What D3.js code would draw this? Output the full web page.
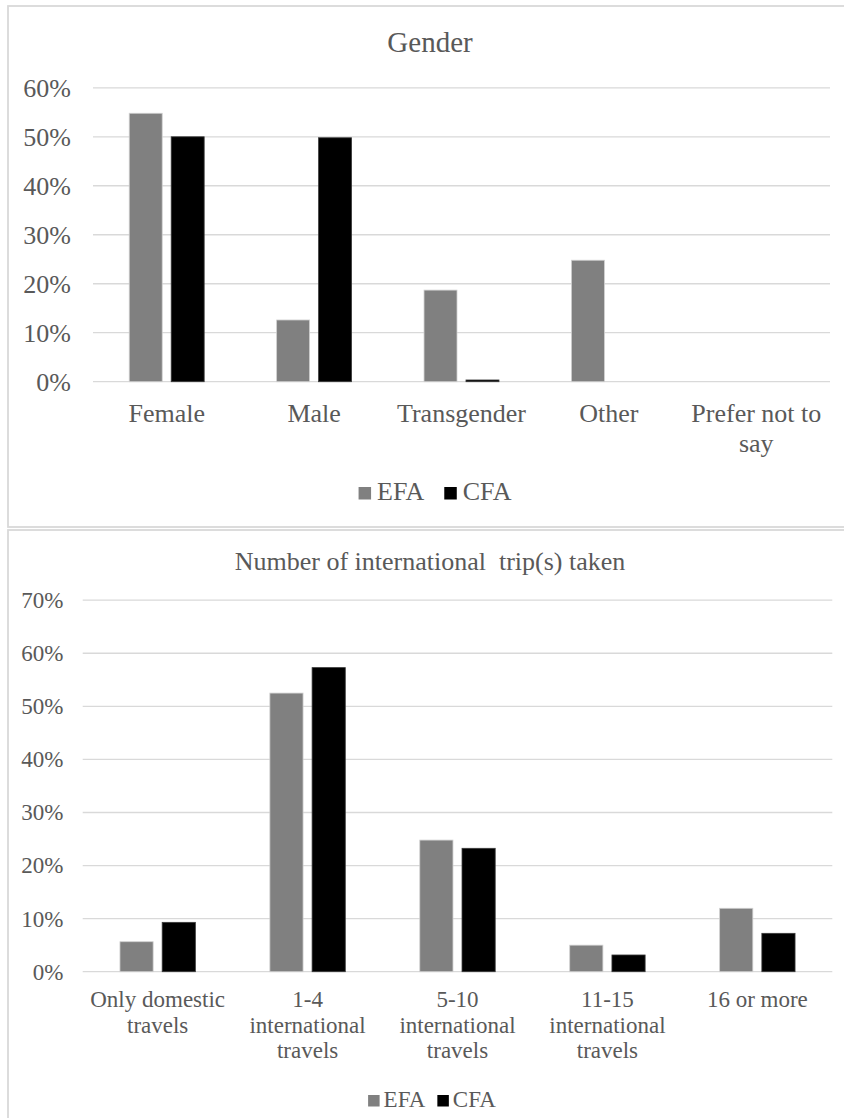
<!DOCTYPE html>
<html>
<head>
<meta charset="utf-8">
<script src="https://cdn.jsdelivr.net/npm/d3@7"></script>
<style>
  html, body { margin: 0; padding: 0; background: #ffffff; }
  svg { display: block; }
  text { font-family: "Liberation Serif", "Times New Roman", serif; fill: #595959; }
</style>
</head>
<body>
<svg id="chart" width="844" height="1118"></svg>
<script>
// ---------- data ----------
const seriesNames = ["EFA", "CFA"];

const genderTitle = "Gender";
const genderCategories = ["Female", "Male", "Transgender", "Other", "Prefer not to say"];
const genderEFA = [0.548, 0.126, 0.187, 0.248, 0];
const genderCFA = [0.500, 0.498, 0.0035, 0, 0];
const genderTicks = [0, 0.1, 0.2, 0.3, 0.4, 0.5, 0.6];

const tripTitle = "Number of international  trip(s) taken";
const tripCategories = ["Only domestic travels", "1-4 international travels", "5-10 international travels", "11-15 international travels", "16 or more"];
const tripEFA = [0.0565, 0.525, 0.248, 0.050, 0.1195];
const tripCFA = [0.093, 0.573, 0.2325, 0.0315, 0.0723];
const tripTicks = [0, 0.1, 0.2, 0.3, 0.4, 0.5, 0.6, 0.7];

// ---------- styles ----------
const seriesColors = { EFA: "#808080", CFA: "#000000" };
const gridColor = "#d9d9d9";
const borderColor = "#d9d9d9";

const svg = d3.select("#chart");

function drawChart(cfg) {
  const g = svg.append("g");

  // panel border
  g.append("rect")
    .attr("x", cfg.panel[0]).attr("y", cfg.panel[1])
    .attr("width", cfg.panel[2] - cfg.panel[0]).attr("height", cfg.panel[3] - cfg.panel[1])
    .attr("fill", "none").attr("stroke", borderColor).attr("stroke-width", 1.8);

  const y = d3.scaleLinear().domain([0, d3.max(cfg.ticks)]).range([cfg.yBottom, cfg.yTop]);
  const x0 = d3.scaleBand().domain(cfg.categories).range([cfg.xLeft, cfg.xRight])
    .paddingInner(cfg.groupPad).paddingOuter(cfg.groupPad / 2);
  const x1 = d3.scaleBand().domain(seriesNames).range([0, x0.bandwidth()]).paddingInner(cfg.barPad);

  // gridlines
  g.append("g").selectAll("line").data(cfg.ticks).join("line")
    .attr("x1", cfg.xLeft).attr("x2", cfg.xRight)
    .attr("y1", d => y(d)).attr("y2", d => y(d))
    .attr("stroke", gridColor).attr("stroke-width", 1.3);

  // y axis labels via d3 axis
  const yAxis = d3.axisLeft(y).tickValues(cfg.ticks).tickFormat(d3.format(".0%")).tickSize(0).tickPadding(0);
  const ya = g.append("g").attr("transform", `translate(${cfg.yLabelRight},0)`).call(yAxis);
  ya.select(".domain").remove();
  ya.selectAll("text")
    .attr("font-size", cfg.labelSize)
    .attr("fill", "#595959")
    .attr("font-family", '"Liberation Serif", "Times New Roman", serif')
    .attr("dy", "0.32em");

  // bars
  const rows = cfg.categories.map((c, i) => ({ cat: c, values: [cfg.efa[i], cfg.cfa[i]] }));
  const grp = g.append("g").selectAll("g").data(rows).join("g")
    .attr("transform", d => `translate(${x0(d.cat)},0)`);
  grp.selectAll("rect").data(d => d.values.map((v, k) => ({ s: seriesNames[k], v })))
    .join("rect")
    .filter(d => d.v > 0)
    .attr("x", d => x1(d.s))
    .attr("width", x1.bandwidth())
    .attr("y", d => y(d.v))
    .attr("height", d => y(0) - y(d.v))
    .attr("fill", d => seriesColors[d.s])
    .attr("stroke", d => d.s === "EFA" ? "#d0d0d0" : "#3a3a3a")
    .attr("stroke-width", 0.8);

  // x category labels with wrapping
  const xl = g.append("g");
  cfg.categories.forEach(cat => {
    const cx = x0(cat) + x0.bandwidth() / 2;
    const t = xl.append("text")
      .attr("x", cx).attr("y", cfg.xLabelY)
      .attr("text-anchor", "middle")
      .attr("font-size", cfg.labelSize);
    const words = cat.split(" ");
    const maxW = x0.step() - 4;
    let line = [];
    let lineNo = 0;
    let tspan = t.append("tspan").attr("x", cx).attr("y", cfg.xLabelY);
    words.forEach(w => {
      line.push(w);
      tspan.text(line.join(" "));
      if (tspan.node().getComputedTextLength() > maxW && line.length > 1) {
        line.pop();
        tspan.text(line.join(" "));
        line = [w];
        lineNo++;
        tspan = t.append("tspan").attr("x", cx)
          .attr("y", cfg.xLabelY + lineNo * cfg.lineHeight).text(w);
      }
    });
  });

  // title
  g.append("text")
    .attr("x", cfg.titleX).attr("y", cfg.titleY)
    .attr("text-anchor", "middle")
    .attr("font-size", cfg.titleSize)
    .style("white-space", "pre")
    .text(cfg.title);

  // legend
  const lg = g.append("g");
  const sq = cfg.legendSquare;
  let cursor = 0;
  const items = [];
  seriesNames.forEach((s, k) => {
    const it = lg.append("g");
    it.append("rect").attr("x", 0).attr("y", cfg.legendY - sq - 0.5)
      .attr("width", sq).attr("height", sq).attr("fill", seriesColors[s]);
    const tx = it.append("text").attr("x", sq + cfg.legendTextGap).attr("y", cfg.legendY)
      .attr("font-size", cfg.labelSize).text(s);
    const w = sq + cfg.legendTextGap + tx.node().getComputedTextLength();
    items.push({ it, w });
  });
  const total = d3.sum(items, d => d.w) + cfg.legendItemGap * (items.length - 1);
  let start = cfg.legendCx - total / 2;
  items.forEach(d => {
    d.it.attr("transform", `translate(${start},0)`);
    start += d.w + cfg.legendItemGap;
  });
}

drawChart({
  panel: [8, 6, 846, 527],
  title: genderTitle, titleX: 430, titleY: 52, titleSize: 29,
  categories: genderCategories, efa: genderEFA, cfa: genderCFA, ticks: genderTicks,
  xLeft: 93, xRight: 830, yBottom: 381.7, yTop: 87.8,
  groupPad: 0.4915, barPad: 0.2143,
  yLabelRight: 71, labelSize: 26,
  xLabelY: 421.7, lineHeight: 30,
  legendY: 500, legendSquare: 12.5, legendTextGap: 6, legendItemGap: 20, legendCx: 435
});

drawChart({
  panel: [8, 530, 846, 1130],
  title: tripTitle, titleX: 430, titleY: 570, titleSize: 26,
  categories: tripCategories, efa: tripEFA, cfa: tripCFA, ticks: tripTicks,
  xLeft: 82.7, xRight: 832.3, yBottom: 971.7, yTop: 600.2,
  groupPad: 0.497, barPad: 0.2143,
  yLabelRight: 63.3, labelSize: 23,
  xLabelY: 1007, lineHeight: 25.5,
  legendY: 1107, legendSquare: 11.5, legendTextGap: 4, legendItemGap: 12, legendCx: 432
});
</script>
</body>
</html>
